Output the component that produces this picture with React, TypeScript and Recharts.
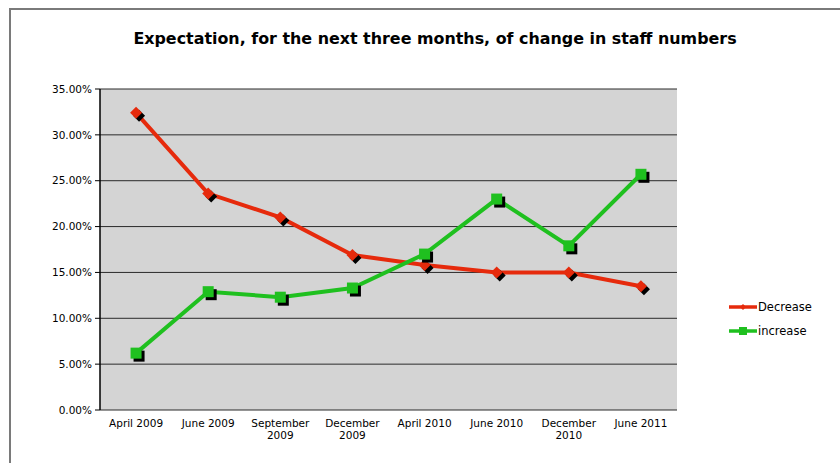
import React from 'react';
import {
  LineChart,
  Line,
  XAxis,
  YAxis,
  CartesianGrid,
} from 'recharts';

const categories = [
  'April 2009',
  'June 2009',
  'September 2009',
  'December 2009',
  'April 2010',
  'June 2010',
  'December 2010',
  'June 2011',
];
const decrease = [32.4, 23.6, 21.0, 16.9, 15.8, 15.0, 15.0, 13.5];
const increase = [6.2, 12.9, 12.3, 13.3, 17.0, 23.0, 17.9, 25.7];
const yTicks = [0, 5, 10, 15, 20, 25, 30, 35];
const boundTicks = [0, 1, 2, 3, 4, 5, 6, 7, 8];

const RED = '#e62a0c';
const GREEN = '#1fc01f';
const FONT = '"DejaVu Sans", Verdana, sans-serif';

const data = categories.map((month, i) => ({
  month,
  decrease: decrease[i],
  increase: increase[i],
}));

const Diamond = (props: any) => {
  const { cx, cy } = props;
  if (cx == null || cy == null) return null;
  const r = 6;
  const pts = (dx: number, dy: number) =>
    `${cx + dx},${cy + dy - r} ${cx + dx + r},${cy + dy} ${cx + dx},${cy + dy + r} ${cx + dx - r},${cy + dy}`;
  return (
    <g>
      <polygon points={pts(3, 3)} fill="#000" />
      <polygon points={pts(0, 0)} fill={RED} />
    </g>
  );
};

const Square = (props: any) => {
  const { cx, cy } = props;
  if (cx == null || cy == null) return null;
  const s = 11;
  return (
    <g>
      <rect x={cx - s / 2 + 3} y={cy - s / 2 + 3} width={s} height={s} fill="#000" />
      <rect x={cx - s / 2} y={cy - s / 2} width={s} height={s} fill={GREEN} />
    </g>
  );
};

const CatTick = (props: any) => {
  const { x, y, payload } = props;
  const label: string = payload.value;
  const lines = label.length > 11 ? label.split(' ') : [label];
  return (
    <text x={x} y={y} textAnchor="middle" fontSize={10.5} fontFamily={FONT} fill="#000">
      {lines.map((l, i) => (
        <tspan key={i} x={x} dy={i === 0 ? 9 : 12}>
          {l}
        </tspan>
      ))}
    </text>
  );
};

const LegendBox = () => (
  <div
    style={{
      position: 'absolute',
      left: 728,
      top: 295,
      fontFamily: FONT,
      fontSize: 11.5,
      color: '#000',
    }}
  >
    {[
      { name: 'Decrease', color: RED, shape: 'diamond' },
      { name: 'increase', color: GREEN, shape: 'square' },
    ].map((item) => (
      <div key={item.name} style={{ display: 'flex', alignItems: 'center', height: 24 }}>
        <svg width={30} height={10}>
          <line x1={1} y1={5} x2={29} y2={5} stroke={item.color} strokeWidth={3.5} />
          {item.shape === 'diamond' ? (
            <polygon points="15,2 18,5 15,8 12,5" fill={item.color} />
          ) : (
            <rect x={11} y={1} width={8} height={8} fill={item.color} />
          )}
        </svg>
        <span>{item.name}</span>
      </div>
    ))}
  </div>
);

export default function App() {
  return (
    <div
      style={{
        position: 'absolute',
        left: 0,
        top: 0,
        width: 840,
        height: 463,
        background: '#fff',
        overflow: 'hidden',
      }}
    >
      <div
        style={{
          position: 'absolute',
          left: 9,
          top: 8,
          width: 900,
          height: 500,
          border: '2px solid #7a7a7a',
        }}
      />
      <div
        style={{
          position: 'absolute',
          left: 0,
          top: 29,
          width: 870,
          textAlign: 'center',
          fontFamily: FONT,
          fontWeight: 'bold',
          fontSize: 15.9,
          color: '#000',
        }}
      >
        Expectation, for the next three months, of change in staff numbers
      </div>
      <div style={{ position: 'absolute', left: 0, top: 0 }}>
        <LineChart
          width={840}
          height={463}
          data={data}
          margin={{ top: 89, right: 163, left: 0, bottom: 0 }}
        >
          <CartesianGrid
            vertical={false}
            stroke="#2a2a2a"
            fill="#d4d4d4"
            fillOpacity={1}
            yAxisId="left"
          />
          <XAxis
            xAxisId="bounds"
            type="number"
            domain={[0, 8]}
            ticks={boundTicks}
            tick={false}
            height={0}
            tickSize={5}
            stroke="#000"
            axisLine={{ stroke: '#000', strokeWidth: 1.5 }}
            tickLine={{ stroke: '#000' }}
          />
          <XAxis
            xAxisId="cat"
            dataKey="month"
            scale="band"
            tick={<CatTick />}
            tickLine={false}
            axisLine={false}
            interval={0}
            height={53}
          />
          <XAxis
            xAxisId="top"
            orientation="top"
            type="number"
            domain={[0, 1]}
            tick={false}
            tickLine={false}
            height={0}
            axisLine={{ stroke: '#8a8a8a', strokeWidth: 1.5 }}
          />
          <YAxis
            yAxisId="left"
            domain={[0, 35]}
            ticks={yTicks}
            interval={0}
            width={100}
            tickFormatter={(v: number) => `${v.toFixed(2)}%`}
            tick={{ fontSize: 10.5, fontFamily: FONT, fill: '#000' }}
            tickSize={5}
            tickMargin={3}
            axisLine={{ stroke: '#000', strokeWidth: 1.5 }}
            tickLine={{ stroke: '#000' }}
          />
          <YAxis
            yAxisId="right"
            orientation="right"
            domain={[0, 35]}
            width={0}
            tick={false}
            tickLine={false}
            axisLine={{ stroke: '#9a9a9a', strokeWidth: 2 }}
          />
          <Line
            xAxisId="cat"
            yAxisId="left"
            dataKey="decrease"
            name="Decrease"
            type="linear"
            stroke={RED}
            strokeWidth={4}
            dot={<Diamond />}
            activeDot={false}
            isAnimationActive={false}
          />
          <Line
            xAxisId="cat"
            yAxisId="left"
            dataKey="increase"
            name="increase"
            type="linear"
            stroke={GREEN}
            strokeWidth={4}
            dot={<Square />}
            activeDot={false}
            isAnimationActive={false}
          />
        </LineChart>
      </div>
      <LegendBox />
    </div>
  );
}
